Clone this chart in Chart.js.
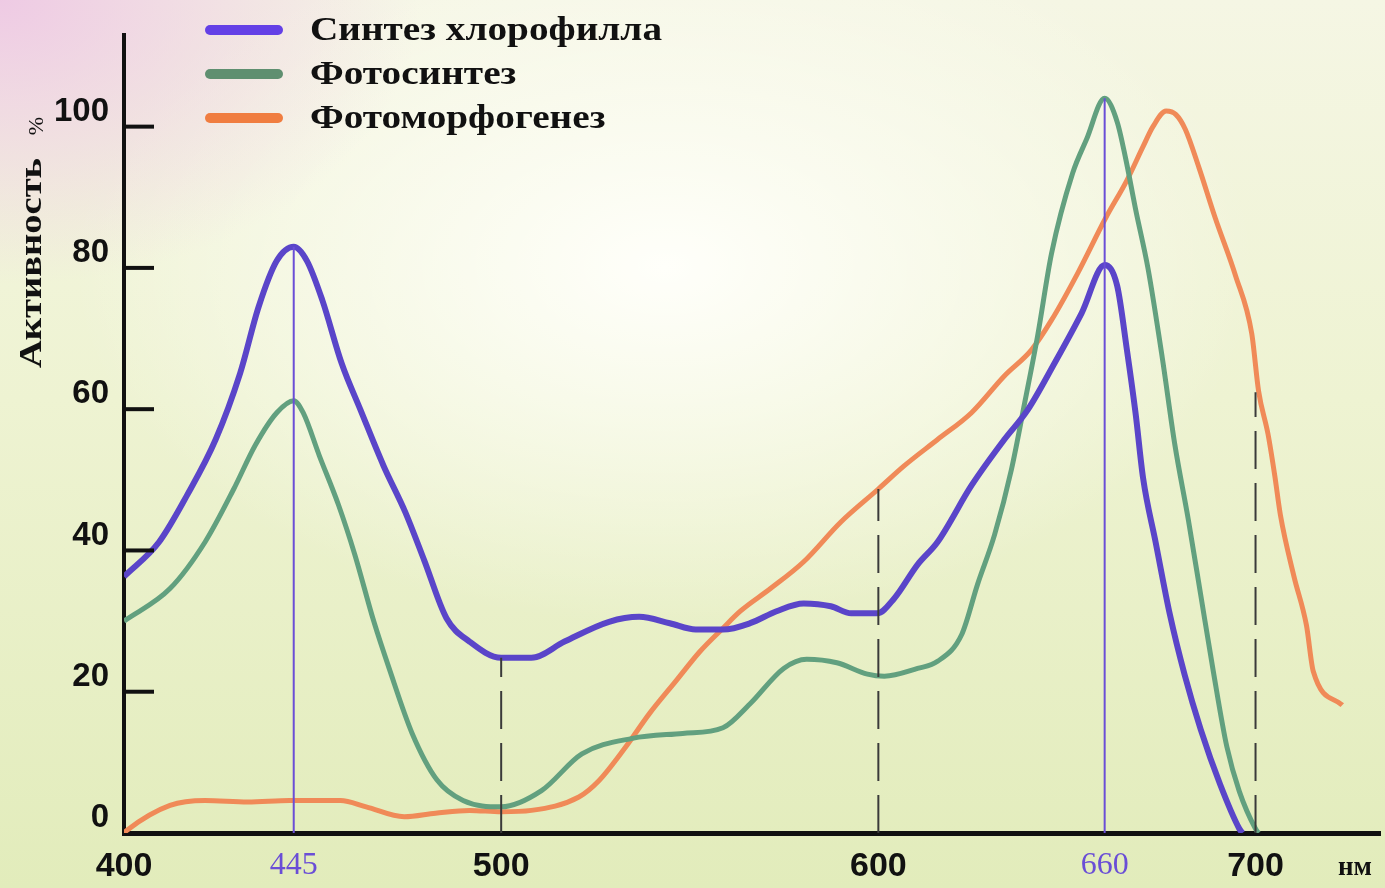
<!DOCTYPE html>
<html lang="ru">
<head>
<meta charset="utf-8">
<title>Активность</title>
<script src="https://cdn.jsdelivr.net/npm/chart.js@4"></script>
<style>
html, body { margin: 0; padding: 0; }
body {
    width: 1385px; height: 888px; overflow: hidden;
    background:
        radial-gradient(ellipse 560px 380px at 0% 0%, rgba(238,200,228,0.95), rgba(238,200,228,0) 75%),
        radial-gradient(ellipse 760px 460px at 48% 30%, rgba(255,255,250,1), rgba(255,255,250,0) 78%),
        linear-gradient(180deg, #f5f6e4 0%, #eef3d2 45%, #e2ecbb 100%);
}
#wrap { position: relative; width: 1385px; height: 888px; }
</style>
</head>
<body>
<div id="wrap"><canvas id="chart"></canvas></div>
<script>
// series names (legend)
const seriesNames = ['Синтез хлорофилла', 'Фотосинтез', 'Фотоморфогенез'];

// Синтез хлорофилла
const chlorX = [400, 409.3, 416.7, 424.3, 430.8, 435.7, 440.5, 445, 448.5, 452.6, 457.7, 462.7, 468.8, 474.6, 479.6, 485.5, 491.6, 500,
    508, 516.8, 528.6, 536.6, 544.7, 551.6, 558.8, 566, 573, 580.2, 587.4, 592.8, 599.7, 604.2, 610.4, 615.7, 624.7, 633.4, 639.6,
    646.7, 653.9, 660, 663.3, 665.9, 668.2, 670.2, 673.5, 677.3, 681.2, 685.5, 690.6, 695.7, 696.5];
const chlorY = [36.3, 41.2, 47.8, 55.7, 65.1, 74.5, 81.0, 83.0, 81.0, 75.4, 66.5, 59.9, 52.0, 45.4, 38.6, 30.4, 27.1, 24.8,
    24.8, 27.1, 29.9, 30.6, 29.7, 28.8, 28.8, 29.7, 31.4, 32.5, 32.1, 31.1, 31.1, 33.2, 38.0, 41.2, 49.2, 55.7, 59.9,
    66.5, 73.6, 80.4, 77.5, 68.4, 59.4, 50.2, 41.2, 30.9, 22.4, 14.6, 6.9, 0.6, 0];

// Фотосинтез
const photoX = [400, 412.2, 421.5, 429.1, 434.8, 440.5, 445, 447.5, 451.8, 456.9, 461.2, 466.2, 470.3, 476.4, 483, 489.9, 500,
    510.7, 521.4, 534.8, 548.1, 558.8, 566, 574.9, 581, 589, 597.1, 601.6, 610.4, 615.7, 622.1, 626.3, 630.8, 635.3, 638.8,
    642.2, 645.9, 651.5, 655.2, 660, 663.3, 665.6, 668.2, 671.5, 675.3, 678.6, 682.2, 685.5, 688.8, 692.4, 695.7, 700, 700.8];
const photoY = [30.0, 34.6, 41.2, 48.7, 54.9, 59.5, 61.2, 59.5, 53.4, 46.4, 39.4, 30.0, 23.3, 14.1, 7.5, 4.6, 3.7,
    6.0, 11.2, 13.4, 14.1, 14.9, 18.3, 23.3, 24.6, 24.1, 22.5, 22.2, 23.3, 24.3, 28.1, 35.2, 42.2, 51.5, 60.9,
    70.3, 82.0, 93.4, 98.2, 104.0, 100.7, 95.4, 88.3, 79.9, 67.2, 55.0, 44.3, 33.6, 22.9, 12.2, 5.9, 0.6, 0];

// Фотоморфогенез
const morphX = [400, 400.8, 412.2, 421.5, 432.8, 443.9, 457.4, 464.2, 474.3, 482.6, 491.6, 500, 508, 520.6, 525.9, 532.9,
    539.3, 546.3, 552.7, 558.8, 563.4, 571.4, 580.2, 590, 600, 606.9, 615.7, 624.7, 633.4, 640.6, 645.9, 652.8, 660.3,
    665.9, 670.2, 672.8, 676.3, 678.9, 681.4, 685, 689.3, 694.7, 699, 700.8, 703.3, 705.1, 706.6, 710.2, 713.5, 715.3, 723];
const morphY = [0, 0.4, 3.9, 4.6, 4.4, 4.6, 4.6, 3.7, 2.3, 2.8, 3.2, 3.0, 3.2, 5.1, 7.4, 12.1,
    16.9, 21.5, 25.7, 29.0, 31.4, 34.6, 38.4, 44.0, 48.7, 52.0, 55.7, 59.5, 64.7, 68.4, 72.6, 79.2, 87.1,
    92.4, 97.2, 100.0, 102.2, 101.7, 99.6, 94.2, 87.1, 78.9, 70.7, 62.6, 56.5, 50.6, 45.0, 36.3, 29.4, 22.9, 18.1];

// guide lines: wavelength and the height they reach
const peakLinesX = [445, 660];
const peakLinesTop = [83.0, 104.0];
const dashLinesX = [500, 600, 700];
const dashLinesTop = [24.8, 48.7, 62.4];

// axis ticks
const xTicks = [400, 445, 500, 600, 660, 700];
const yTicks = [0, 20, 40, 60, 80, 100];

const colors = ['#5a45c9', '#62a07f', '#f08a58'];
const legendColors = ['#6440e6', '#5f8f70', '#f07d40'];
const purple = '#6a4ed6';

function pairs(xs, ys) {
    return xs.map((x, i) => ({ x: x, y: ys[i] }));
}

const datasets = [];
[[chlorX, chlorY, 6], [photoX, photoY, 5], [morphX, morphY, 5]].forEach(function(s, i) {
    datasets.push({
        label: seriesNames[i],
        data: pairs(s[0], s[1]),
        borderColor: colors[i],
        borderWidth: s[2],
        pointRadius: 0,
        tension: 0.4,
        cubicInterpolationMode: 'monotone',
        order: 1
    });
});
peakLinesX.forEach(function(x, i) {
    datasets.push({
        label: 'guide',
        data: [{ x: x, y: 0 }, { x: x, y: peakLinesTop[i] }],
        borderColor: purple,
        borderWidth: 2,
        pointRadius: 0,
        order: 0
    });
});
dashLinesX.forEach(function(x, i) {
    datasets.push({
        label: 'guide',
        data: [{ x: x, y: 0 }, { x: x, y: dashLinesTop[i] }],
        borderColor: '#3a3a3a',
        borderWidth: 2,
        borderDash: [38, 14],
        pointRadius: 0,
        order: 0
    });
});

const decor = {
    id: 'decor',
    afterDraw(chart) {
        const ctx = chart.ctx;
        const xs = chart.scales.x, ys = chart.scales.y;
        ctx.save();

        // inward tick marks on the y axis
        ctx.strokeStyle = '#111';
        ctx.lineWidth = 4;
        yTicks.forEach(function(v) {
            if (v === 0) return;
            const py = ys.getPixelForValue(v);
            ctx.beginPath();
            ctx.moveTo(xs.left, py);
            ctx.lineTo(xs.left + 30, py);
            ctx.stroke();
        });

        // legend
        ctx.font = 'bold 34px "Liberation Serif"';
        ctx.textBaseline = 'middle';
        const sx = 352 / ctx.measureText(seriesNames[0]).width;
        seriesNames.forEach(function(name, i) {
            const ly = 30 + i * 44;
            ctx.strokeStyle = legendColors[i];
            ctx.lineWidth = 10;
            ctx.lineCap = 'round';
            ctx.beginPath();
            ctx.moveTo(210, ly);
            ctx.lineTo(278, ly);
            ctx.stroke();
            ctx.save();
            ctx.translate(310, ly + 1);
            ctx.scale(sx, 1);
            ctx.fillStyle = '#111';
            ctx.fillText(name, 0, 0);
            ctx.restore();
        });

        // y axis title
        ctx.save();
        ctx.translate(33, 368);
        ctx.rotate(-Math.PI / 2);
        ctx.font = 'bold 31px "Liberation Serif"';
        ctx.fillStyle = '#111';
        ctx.textAlign = 'left';
        const tw = ctx.measureText('Активность').width;
        ctx.scale(210 / tw, 1);
        ctx.fillText('Активность', 0, 0);
        ctx.restore();
        ctx.save();
        ctx.translate(37, 126);
        ctx.rotate(-Math.PI / 2);
        ctx.font = '22px "Liberation Serif"';
        ctx.fillStyle = '#111';
        ctx.textAlign = 'center';
        ctx.fillText('%', 0, 0);
        ctx.restore();

        // unit
        ctx.font = 'bold 27px "Liberation Serif"';
        ctx.fillStyle = '#111';
        ctx.textAlign = 'center';
        ctx.fillText('нм', 1355, 868);

        ctx.restore();
    }
};

new Chart(document.getElementById('chart'), {
    type: 'line',
    data: { datasets: datasets },
    options: {
        responsive: true,
        maintainAspectRatio: false,
        animation: false,
        layout: { padding: { top: 28, right: 5, left: 0, bottom: 0 } },
        plugins: {
            legend: { display: false },
            tooltip: { enabled: false }
        },
        scales: {
            x: {
                type: 'linear',
                min: 400,
                max: 733,
                afterBuildTicks: function(scale) {
                    scale.ticks = xTicks.map(v => ({ value: v }));
                },
                afterFit: function(scale) { scale.height = 55; },
                grid: { display: false, drawTicks: false },
                border: { display: true, color: '#111', width: 5 },
                ticks: {
                    padding: 13,
                    autoSkip: false,
                    maxRotation: 0,
                    color: ctx => (ctx.tick && (ctx.tick.value === 445 || ctx.tick.value === 660)) ? purple : '#111',
                    font: ctx => (ctx.tick && (ctx.tick.value === 445 || ctx.tick.value === 660))
                        ? { family: '"Liberation Serif"', size: 32 }
                        : { family: '"Liberation Sans"', size: 34, weight: 'bold' },
                    callback: v => String(v)
                }
            },
            y: {
                min: 0,
                max: 113,
                afterBuildTicks: function(scale) {
                    scale.ticks = yTicks.map(v => ({ value: v }));
                },
                afterFit: function(scale) { scale.width = 124; },
                grid: { display: false, drawTicks: false },
                border: { display: true, color: '#111', width: 4 },
                ticks: {
                    padding: 15,
                    labelOffset: -15,
                    color: '#111',
                    font: { family: '"Liberation Sans"', size: 33, weight: 'bold' }
                }
            }
        }
    },
    plugins: [decor]
});
</script>
</body>
</html>
